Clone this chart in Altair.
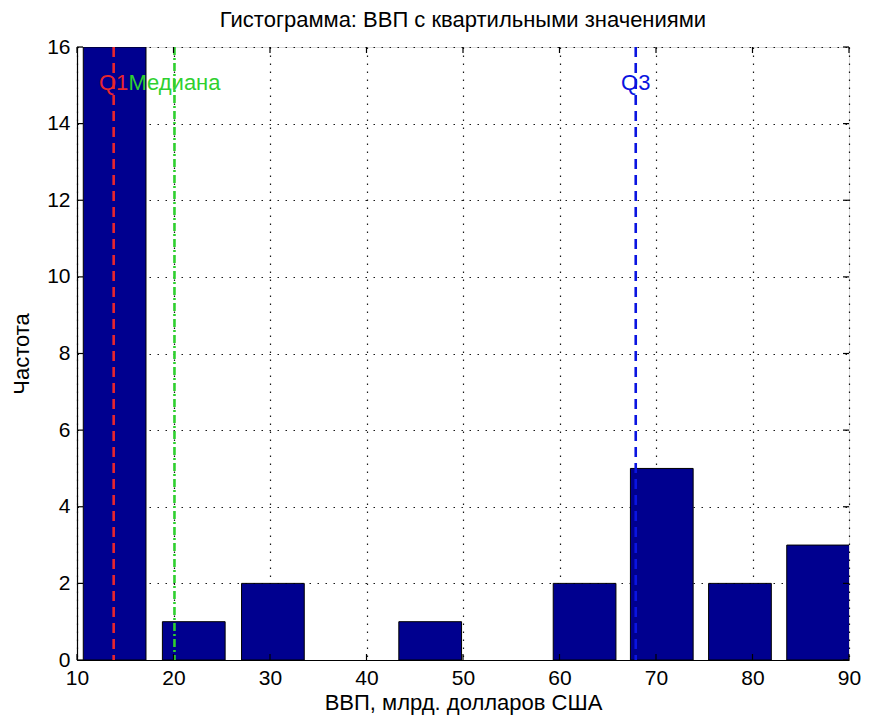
import altair as alt
import pandas as pd

# ---- data ----
bin_centers = [13.9, 22.1, 30.3, 38.5, 46.6, 54.7, 62.6, 70.6, 78.7, 86.8]
counts = [16, 1, 2, 0, 1, 0, 2, 5, 2, 3]
bar_width = 6.5

stat_names = ["Q1", "Медиана", "Q3"]
stat_values = [13.8, 20.1, 67.9]
label_y = 15.05

x_ticks = [10, 20, 30, 40, 50, 60, 70, 80, 90]
y_ticks = [0, 2, 4, 6, 8, 10, 12, 14, 16]

title_text = "Гистограмма: ВВП с квартильными значениями"
x_title = "ВВП, млрд. долларов США"
y_title = "Частота"

W, H = 772, 613
FONT = "Liberation Sans"
FS = 22
TFS = 21

bars = pd.DataFrame({
    "center": bin_centers,
    "count": counts,
})
bars["left"] = bars["center"] - bar_width / 2
bars["right"] = bars["center"] + bar_width / 2

stats = pd.DataFrame({"name": stat_names, "value": stat_values, "y": [label_y] * 3})
xt = pd.DataFrame({"v": x_ticks})
yt = pd.DataFrame({"v": y_ticks})

xscale = alt.Scale(domain=[10, 90], nice=False, zero=False)
yscale = alt.Scale(domain=[0, 16], nice=False)

grid_axis_common = dict(
    grid=True, gridColor="#000000", gridDash=[1.5, 6.5], gridWidth=1.2, gridOpacity=0.9,
    domain=True, domainColor="#000000", domainWidth=1.2,
    ticks=False, labelFont=FONT, labelFontSize=TFS, labelColor="#000000",
    titleFont=FONT, titleFontSize=FS, titleFontWeight="normal", titleColor="#000000",
)

bar_layer = alt.Chart(bars).transform_filter(
    alt.datum["count"] > 0
).mark_bar(
    color="#00008F", stroke="#000000", strokeWidth=1, clip=True
).encode(
    x=alt.X("left:Q", scale=xscale,
            axis=alt.Axis(values=x_ticks, title=x_title, labelPadding=7, titlePadding=4,
                          labelFlush=False, **grid_axis_common)),
    x2="right:Q",
    y=alt.Y("count:Q", scale=yscale,
            axis=alt.Axis(values=y_ticks, title=y_title, labelPadding=7, titlePadding=13,
                          **grid_axis_common)),
    y2=alt.datum(0),
)

stat_colors = alt.Scale(domain=stat_names, range=["#E8262E", "#2FD02F", "#0A14E0"])
stat_dash = alt.Scale(domain=stat_names, range=[[10, 6], [8, 3, 2, 3], [10, 6]])

rules = alt.Chart(stats).mark_rule(strokeWidth=2.6).encode(
    x=alt.X("value:Q", scale=xscale),
    color=alt.Color("name:N", scale=stat_colors, legend=None),
    strokeDash=alt.StrokeDash("name:N", scale=stat_dash, legend=None),
)

text_colors = alt.Scale(domain=stat_names, range=["#D8262E", "#3CCB3C", "#1F2A80"])
texts = alt.Chart(stats).mark_text(
    font=FONT, fontSize=FS, align="center", baseline="middle"
).encode(
    x=alt.X("value:Q", scale=xscale),
    y=alt.Y("y:Q", scale=yscale),
    text="name:N",
    color=alt.Color("name:N", scale=text_colors, legend=None),
)

tick_len = 6
xb = alt.Chart(xt).mark_rule(color="#000", strokeWidth=1.2).encode(
    x=alt.X("v:Q", scale=xscale), y=alt.value(H), y2=alt.value(H - tick_len))
xtop = alt.Chart(xt).mark_rule(color="#000", strokeWidth=1.2).encode(
    x=alt.X("v:Q", scale=xscale), y=alt.value(0), y2=alt.value(tick_len))
yl = alt.Chart(yt).mark_rule(color="#000", strokeWidth=1.2).encode(
    y=alt.Y("v:Q", scale=yscale), x=alt.value(0), x2=alt.value(tick_len))
yr = alt.Chart(yt).mark_rule(color="#000", strokeWidth=1.2).encode(
    y=alt.Y("v:Q", scale=yscale), x=alt.value(W), x2=alt.value(W - tick_len))

chart = alt.layer(bar_layer, rules, texts, xb, xtop, yl, yr).properties(
    width=W, height=H,
    title=alt.TitleParams(title_text, font=FONT, fontSize=FS, fontWeight="normal",
                          color="#000000", anchor="middle", offset=4),
    autosize=alt.AutoSizeParams(type="none"),
    padding={"left": 69, "top": 39, "right": 13, "bottom": 57},
).configure_view(
    stroke="#000000", strokeWidth=1.2
).configure(background="#FFFFFF")

chart.save("out.html", embed_options={"renderer": "svg", "actions": False})
